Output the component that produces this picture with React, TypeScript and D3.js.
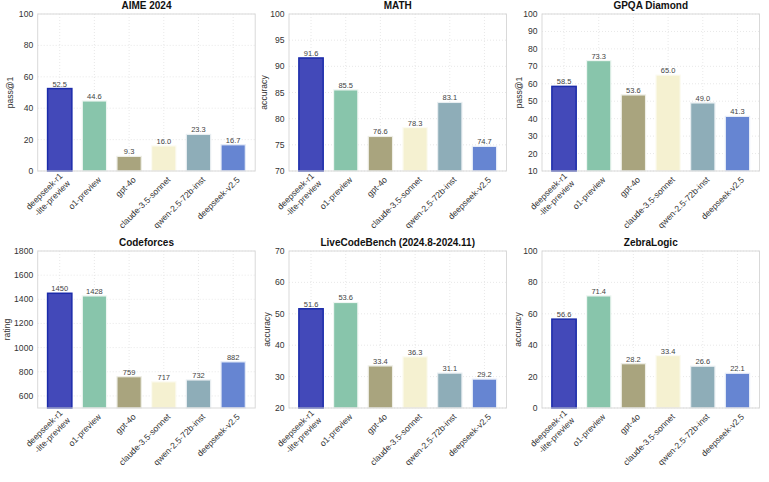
import React from "react";
import * as d3 from "d3";

const models = ["deepseek-r1\n-lite-preview", "o1-preview", "gpt-4o", "claude-3.5-sonnet", "qwen-2.5-72b-inst", "deepseek-v2.5"];
const barColors = ["#4349B9", "#88C5AB", "#A9A47E", "#F5F1D1", "#8EADB8", "#6685D2"];
const barEdges = ["#1B2BAA", "#EEF6F2", "#EEEEE6", "#FCFBF2", "#E8EEF1", "#E6ECF8"];

const aime = [52.5, 44.6, 9.3, 16.0, 23.3, 16.7];
const math = [91.6, 85.5, 76.6, 78.3, 83.1, 74.7];
const gpqa = [58.5, 73.3, 53.6, 65.0, 49.0, 41.3];
const codeforces = [1450, 1428, 759, 717, 732, 882];
const livecodebench = [51.6, 53.6, 33.4, 36.3, 31.1, 29.2];
const zebralogic = [56.6, 71.4, 28.2, 33.4, 26.6, 22.1];

const panelTitles = ["AIME 2024", "MATH", "GPQA Diamond", "Codeforces", "LiveCodeBench (2024.8-2024.11)", "ZebraLogic"];
const panelYLabels = ["pass@1", "accuracy", "pass@1", "rating", "accuracy", "accuracy"];
const panelValues = [aime, math, gpqa, codeforces, livecodebench, zebralogic];
const panelDomains: [number, number][] = [[0, 100], [70, 100], [10, 100], [500, 1800], [20, 70], [0, 100]];
const panelTicks = [
  [0, 20, 40, 60, 80, 100],
  [70, 75, 80, 85, 90, 95, 100],
  [10, 20, 30, 40, 50, 60, 70, 80, 90, 100],
  [600, 800, 1000, 1200, 1400, 1600, 1800],
  [20, 30, 40, 50, 60, 70],
  [0, 20, 40, 60, 80, 100],
];
const panelFormats = [".1f", ".1f", ".1f", "d", ".1f", ".1f"];

const colLefts = [37.7, 289, 542];
const rowTops = [14, 251];
const axW = 217.5;
const axH = 157;
const yLabelOffsets = [25, 22, 20, 28, 19, 21];
const FONT = "'Liberation Sans', Arial, Helvetica, sans-serif";

function Panel({ idx }: { idx: number }) {
  const left = colLefts[idx % 3];
  const top = rowTops[Math.floor(idx / 3)];
  const values = panelValues[idx];
  const x = d3.scaleLinear().domain([-0.635, 5.635]).range([0, axW]);
  const y = d3.scaleLinear().domain(panelDomains[idx]).range([axH, 0]);
  const fmt = d3.format(panelFormats[idx]);
  const bw = x(0.7) - x(0);
  return (
    <g transform={`translate(${left},${top})`} fontFamily={FONT}>
      <rect x={0} y={0} width={axW} height={axH} fill="#fff" />
      {panelTicks[idx].map((t) => (
        <line key={"gy" + t} x1={0} x2={axW} y1={y(t)} y2={y(t)} stroke="#e2e2e2" strokeWidth={0.8} strokeDasharray="1,2" />
      ))}
      {models.map((m, i) => (
        <line key={"gx" + i} x1={x(i)} x2={x(i)} y1={0} y2={axH} stroke="#e2e2e2" strokeWidth={0.8} strokeDasharray="1,2" />
      ))}
      {values.map((v, i) => (
        <rect
          key={"b" + i}
          x={x(i) - bw / 2}
          y={y(v)}
          width={bw}
          height={axH - y(v)}
          fill={barColors[i]}
          stroke={barEdges[i]}
          strokeWidth={i === 0 ? 1.5 : 1.2}
        />
      ))}
      {values.map((v, i) => (
        <text key={"v" + i} x={x(i)} y={y(v) - 2} textAnchor="middle" fontSize={7.5} fill="#444">
          {fmt(v)}
        </text>
      ))}
      <rect x={0} y={0} width={axW} height={axH} fill="none" stroke="#d9d9d9" strokeWidth={1} />
      {panelTicks[idx].map((t) => (
        <text key={"ty" + t} x={-4.5} y={y(t)} dy="0.35em" textAnchor="end" fontSize={8.6} fill="#333">
          {t}
        </text>
      ))}
      {models.map((m, i) => {
        const lines = m.split("\n");
        return (
          <text
            key={"tx" + i}
            transform={`translate(${x(i) + 3},${axH + 5}) rotate(-45)`}
            textAnchor="end"
            fontSize={8.6}
            fill="#333"
          >
            {lines.map((ln, k) => (
              <tspan key={k} x={0} y={(k - (lines.length - 1)) * 10.5 + 6 + (lines.length - 1) * 10.5 * 0.5}>
                {ln}
              </tspan>
            ))}
          </text>
        );
      })}
      <text
        transform={`translate(${-yLabelOffsets[idx]},${axH / 2}) rotate(-90)`}
        textAnchor="middle"
        fontSize={8.6}
        fill="#333"
      >
        {panelYLabels[idx]}
      </text>
      <text x={axW / 2} y={-5} textAnchor="middle" fontSize={10} fontWeight="bold" fill="#111">
        {panelTitles[idx]}
      </text>
    </g>
  );
}

export default function App() {
  return (
    <svg width={769} height={482} style={{ position: "absolute", left: 0, top: 0, background: "#fff" }}>
      <rect width={769} height={482} fill="#fff" />
      {panelTitles.map((_, i) => (
        <Panel key={i} idx={i} />
      ))}
    </svg>
  );
}
